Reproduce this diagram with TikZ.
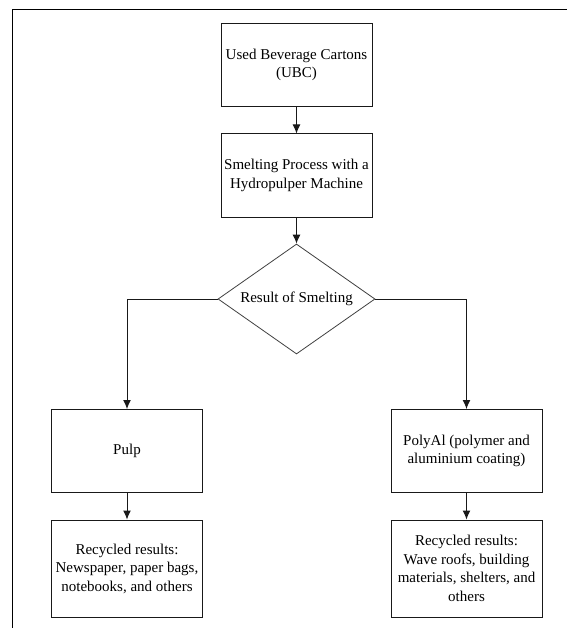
\documentclass[tikz,border=0pt]{standalone}
\usepackage{fontspec}
\setmainfont{Liberation Serif}
\usetikzlibrary{shapes.geometric,arrows.meta}
\begin{document}
\begin{tikzpicture}[x=1pt,y=-1pt,
  box/.style={draw=black!90,line width=1pt,minimum width=151pt,minimum height=83pt,align=center,inner sep=2pt,font=\fontsize{15}{18.5}\selectfont},
  tallbox/.style={box,minimum height=97pt},
  decision/.style={draw=black!75,line width=0.8pt,diamond,aspect=1.43,minimum width=157pt,minimum height=110pt,inner sep=0pt,font=\fontsize{15}{18.5}\selectfont},
  arr/.style={draw=black!90,line width=1pt,-{Latex[length=9pt,width=8pt]}}]
\useasboundingbox (0,0) rectangle (567,628);
\draw[line width=1.5pt] (12.3,628) -- (12.3,9.7) -- (567,9.7);
\node[box] (ubc) at (296.5,65) {Used Beverage Cartons\\(UBC)};
\node[box] (smelt) at (296.5,175.5) {Smelting Process with a\\Hydropulper Machine};
\node[decision] (result) at (296.5,299) {Result of Smelting};
\node[box] (pulp) at (127,451) {Pulp};
\node[box] (polyal) at (466.5,451) {PolyAl (polymer and\\aluminium coating)};
\node[tallbox] (pulpout) at (127,568.5) {Recycled results:\\Newspaper, paper bags,\\notebooks, and others};
\node[tallbox] (polyout) at (466.5,568.5) {Recycled results:\\Wave roofs, building\\materials, shelters, and\\others};
\draw[arr] (ubc) -- (smelt);
\draw[arr] (smelt) -- (result);
\draw[arr] (result.west) -| (pulp);
\draw[arr] (result.east) -| (polyal);
\draw[arr] (pulp) -- (pulpout);
\draw[arr] (polyal) -- (polyout);
\end{tikzpicture}
\end{document}
